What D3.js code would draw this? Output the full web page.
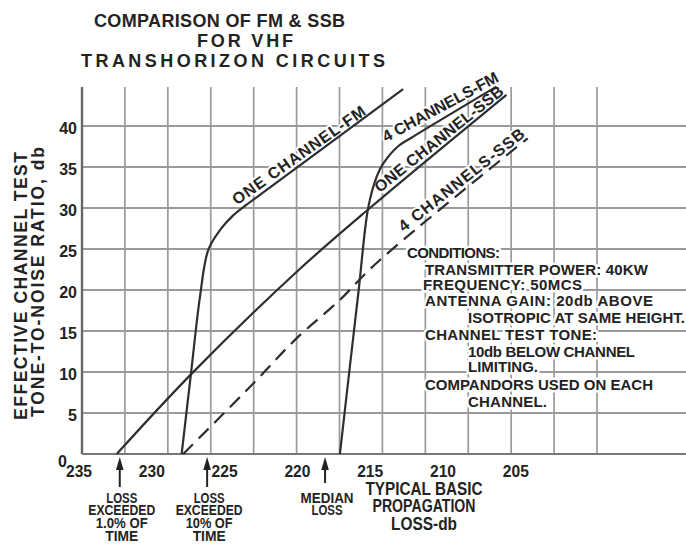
<!DOCTYPE html>
<html>
<head>
<meta charset="utf-8">
<script src="https://cdn.jsdelivr.net/npm/d3@7"></script>
<style>
  html, body { margin: 0; padding: 0; background: #fff; }
  svg { display: block; }
  text { font-family: "Liberation Sans", Arial, sans-serif; font-weight: bold; fill: #232323; }
</style>
</head>
<body>
<svg id="chart" width="686" height="544"></svg>
<script>
// Curves: [typical basic propagation loss (db), effective channel test tone-to-noise ratio (db)]
const oneChannelFM = [[227.95, 0], [227.31, 9.8], [226.69, 19.2], [226.12, 24.9], [225.32, 27.3],
                      [224.41, 29.1], [223.49, 30.4], [222.11, 32.2], [212.74, 44.5]];
const fourChannelsFM = [[217.08, 0], [216.44, 10], [215.79, 20], [215.14, 30.0], [214.56, 33.8],
                        [214.11, 35.4], [213.10, 37.5], [212.14, 38.6], [206.33, 44.8]];
const oneChannelSSB = [[232.41, 0], [227.26, 9.8], [220.06, 22.2], [215.02, 30.0], [205.64, 43.8]];
const fourChannelsSSB = [[227.84, 0], [223.03, 8.6], [220.06, 14.1], [217.08, 18.8], [214.56, 23.3],
                         [204.18, 38.5]];

const lossTicks = [235, 230, 225, 220, 215, 210, 205];
const ratioTicks = [0, 5, 10, 15, 20, 25, 30, 35, 40];

const titleLines = ["COMPARISON OF FM & SSB", "FOR VHF", "TRANSHORIZON CIRCUITS"];
const ratioTitleLines = ["EFFECTIVE CHANNEL TEST", "TONE-TO-NOISE RATIO, db"];
const lossTitleLines = ["TYPICAL BASIC", "PROPAGATION", "LOSS-db"];

// Marked loss values along the loss axis
const lossMarkers = [
  { loss: 232.2, lines: ["LOSS", "EXCEEDED", "1.0% OF", "TIME"] },
  { loss: 226.2, lines: ["LOSS", "EXCEEDED", "10% OF", "TIME"] },
  { loss: 218.1, lines: ["MEDIAN", "LOSS"] }
];

const conditionLines = [
  "CONDITIONS:",
  "TRANSMITTER POWER: 40KW",
  "FREQUENCY: 50MCS",
  "ANTENNA GAIN: 20db ABOVE",
  "ISOTROPIC AT SAME HEIGHT.",
  "CHANNEL TEST TONE:",
  "10db BELOW CHANNEL",
  "LIMITING.",
  "COMPANDORS USED ON EACH",
  "CHANNEL."
];

// ---------- layout ----------
const W = 686, H = 544;
const x = d3.scaleLinear().domain([235, 205]).range([79, 515.8]);
const y = d3.scaleLinear().domain([0, 40]).range([454, 126]);
const plotLeft = 82, plotRight = W;
const gridTop = y(44.75);
// graph-paper ruling, independent of the loss ticks
const paper = d3.scaleLinear().domain([0, 12]).range([plotLeft, 597]);

const svg = d3.select("#chart");
const gGrid = svg.append("g");
const gHalo = svg.append("g");
const gCurves = svg.append("g");
const gText = svg.append("g");

function label(str, o) {
  [true, false].forEach(halo => {
    const t = (halo ? gHalo : gText).append("text")
      .attr("transform", `translate(${o.x},${o.y}) rotate(${o.rotate || 0})`)
      .attr("font-size", o.size || 15)
      .attr("text-anchor", o.anchor || "start")
      .text(str);
    if (o.len) t.attr("textLength", o.len).attr("lengthAdjust", o.adjust || "spacing");
    if (halo) t.attr("fill", "#fff").attr("stroke", "#fff")
               .attr("stroke-width", o.halo || 5).attr("stroke-linejoin", "round");
  });
}

// ---------- grid (ruled as thin bars) ----------
gGrid.selectAll(null).data(ratioTicks.filter(d => d > 0)).join("rect")
  .attr("x", plotLeft).attr("width", plotRight - plotLeft)
  .attr("y", d => y(d) - 1).attr("height", 2)
  .attr("fill", "#9a9a9a");
gGrid.selectAll(null).data(d3.range(1, 13)).join("rect")
  .attr("x", d => paper(d) - 0.85).attr("width", 1.7)
  .attr("y", gridTop).attr("height", y(0) - gridTop)
  .attr("fill", "#9a9a9a");
// axes
gGrid.append("rect").attr("x", plotLeft - 1.2).attr("width", 2.4)
  .attr("y", gridTop).attr("height", y(0) - gridTop).attr("fill", "#666");
gGrid.append("rect").attr("x", plotLeft).attr("width", plotRight - plotLeft)
  .attr("y", y(0) - 1).attr("height", 2).attr("fill", "#777");

// ---------- tick labels ----------
ratioTicks.forEach(v => {
  if (v === 0) label(String(v), { x: 67, y: y(0) + 13, size: 16, anchor: "end" });
  else label(String(v), { x: 77, y: y(v) + 7.5, size: 16, anchor: "end" });
});
lossTicks.forEach(v => {
  label(String(v), { x: x(v), y: 477, size: 17, anchor: "middle", len: 26, adjust: "spacingAndGlyphs" });
});

// ---------- titles ----------
const titleLayout = [{ x: 94, y: 27, len: 251 }, { x: 197, y: 47, len: 96 }, { x: 81, y: 67, len: 304 }];
titleLines.forEach((s, i) => label(s, { ...titleLayout[i], size: 18 }));

const ratioTitleLayout = [{ x: 27, y: 286, len: 268 }, { x: 44, y: 282, len: 270 }];
ratioTitleLines.forEach((s, i) => label(s, { ...ratioTitleLayout[i], size: 17.5, anchor: "middle", rotate: -90 }));

const lossTitleLayout = [{ y: 495, len: 117 }, { y: 512, len: 103 }, { y: 530, len: 66 }];
lossTitleLines.forEach((s, i) => label(s, { x: 424, ...lossTitleLayout[i], size: 17.5, anchor: "middle",
                                            adjust: "spacingAndGlyphs" }));

// ---------- curves ----------
const line = d3.line().x(d => x(d[0])).y(d => y(d[1])).curve(d3.curveCatmullRom.alpha(0.5));
[
  { data: oneChannelFM, dash: null },
  { data: fourChannelsFM, dash: null },
  { data: oneChannelSSB, dash: null },
  { data: fourChannelsSSB, dash: "14,8" }
].forEach(c => {
  gCurves.append("path").attr("d", line(c.data))
    .attr("fill", "none").attr("stroke", "#2e2e2e").attr("stroke-width", 2.2)
    .attr("stroke-dasharray", c.dash);
});

// curve names written along the lines (baseline ends in loss/ratio units)
const curveLabels = [
  { text: "ONE CHANNEL-FM", from: [224.15, 30.3], to: [215.23, 41.5] },
  { text: "4 CHANNELS-FM", from: [213.92, 38.0], to: [206.10, 45.5] },
  { text: "ONE CHANNEL-SSB", from: [214.34, 31.8], to: [205.76, 44.0] },
  { text: "4 CHANNELS-SSB", from: [212.69, 27.0], to: [204.31, 38.8] }
];
curveLabels.forEach(l => {
  const x0 = x(l.from[0]), y0 = y(l.from[1]), x1 = x(l.to[0]), y1 = y(l.to[1]);
  const ang = Math.atan2(y1 - y0, x1 - x0) * 180 / Math.PI;
  label(l.text, { x: x0, y: y0, rotate: ang, size: 16, len: Math.hypot(x1 - x0, y1 - y0), halo: 4 });
});

// ---------- loss markers ----------
const markerWidths = [[31, 67, 52, 33], [31, 67, 47, 33], [53, 31]];
lossMarkers.forEach((m, i) => {
  const ax = x(m.loss);
  const tip = y(0) + 3;
  gText.append("path")
    .attr("d", `M${ax},${tip} L${ax - 3.8},${tip + 13} L${ax + 3.8},${tip + 13} Z`)
    .attr("fill", "#222");
  gText.append("path")
    .attr("d", `M${ax},${tip + 10}V${m.lines.length > 2 ? 487 : 483}`)
    .attr("stroke", "#222").attr("stroke-width", 2);
  m.lines.forEach((s, j) => {
    label(s, { x: ax + 2, y: 502.5 + j * 12.8, size: 14, anchor: "middle", len: markerWidths[i][j],
               adjust: "spacingAndGlyphs" });
  });
});

// ---------- conditions block ----------
const condLayout = [
  { x: 407, y: 258, len: 93 }, { x: 425, y: 275, len: 223 }, { x: 423, y: 290, len: 159 },
  { x: 425, y: 306, len: 228 }, { x: 468, y: 323, len: 217 }, { x: 425, y: 340, len: 172 },
  { x: 468, y: 357, len: 167 }, { x: 468, y: 372, len: 70 }, { x: 425, y: 390, len: 228 },
  { x: 468, y: 407, len: 79 }
];
conditionLines.forEach((s, i) => label(s, { ...condLayout[i], size: 15, halo: 5 }));
</script>
</body>
</html>
